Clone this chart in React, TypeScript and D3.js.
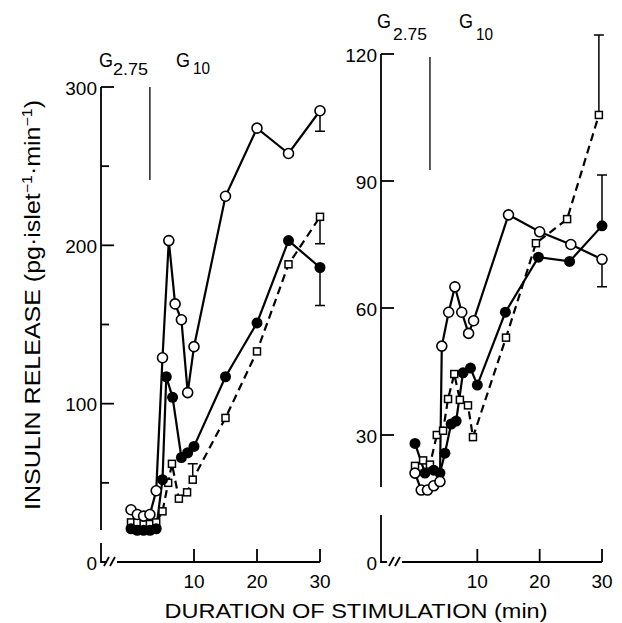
import React, { useEffect, useRef } from "react";
import * as d3 from "d3";

// left panel (0-300 scale)
const leftOpenT = [0, 1, 2, 3, 4, 5, 6, 7, 8, 9, 10, 15, 20, 25, 30];
const leftOpenV = [33, 30, 29, 30, 45, 129, 203, 163, 153, 107, 136, 231, 274, 258, 285];
const leftFilledT = [0, 1, 2, 3, 4, 5, 5.6, 6.6, 8, 9, 10, 15, 20, 25, 30];
const leftFilledV = [21, 20, 20, 20, 21, 52, 117, 104, 66, 69, 73, 117, 151, 203, 186];
const leftSquareT = [0, 1, 2, 3, 4, 5, 5.9, 6.5, 7.6, 8.9, 9.8, 15, 20, 25, 30];
const leftSquareV = [25, 25, 24, 24, 25, 32, 50, 62, 40, 44, 52, 91, 133, 188, 218];
// [time, value, bar end]
const leftErr = [[30, 285, 272], [30, 186, 162], [30, 218, 201], [9.8, 52, 62]];

// right panel (0-120 scale)
const rightOpenT = [0, 1, 2, 3, 4, 4.3, 5.4, 6.4, 7.5, 8.6, 9.4, 15, 20, 25, 30];
const rightOpenV = [21, 17, 17, 18, 19, 51, 59, 65, 59, 54, 57, 82, 78, 75, 71.5];
const rightFilledT = [0, 1.6, 3, 4, 4.8, 5.8, 6.6, 7.7, 8.9, 10, 14.5, 19.8, 24.8, 30];
const rightFilledV = [28, 21, 21.7, 21, 25.7, 32.6, 33.3, 44.7, 45.8, 41.8, 59, 72, 71, 79.4];
const rightSquareT = [0, 1.3, 2.4, 3.5, 4.5, 5.3, 6.3, 7.2, 8.5, 9.3, 14.6, 19.4, 24.4, 29.5];
const rightSquareV = [22.7, 24, 23, 30, 31, 38.5, 44.4, 38.3, 37, 29.5, 53, 75.3, 81, 105.6];
const rightErr = [[30, 71.5, 65], [30, 79.4, 91.4], [29.5, 105.6, 124.5]];

const xTicks = [10, 20, 30];
const leftYTicks = [0, 100, 200, 300];
const leftYMinor = [50, 150, 250];
const rightYTicks = [0, 30, 60, 90, 120];

const FONT = "'Liberation Sans', Arial, sans-serif";

const xL = d3.scaleLinear().domain([0, 30]).range([131, 320]);
const yL = d3.scaleLinear().domain([0, 300]).range([562, 87]);
const xR = d3.scaleLinear().domain([0, 30]).range([415, 602]);
const yR = d3.scaleLinear().domain([0, 120]).range([562, 54]);

function zip(t: number[], v: number[]) {
  return t.map((d, i) => [d, v[i]] as [number, number]);
}

// axis frame drawn as JSX
function Frame({ x, y, axisX, yTicks, yMinor, breakGap, xStart, slashX }: any) {
  const y0 = y(0);
  const yTop = y(y.domain()[1]);
  const st = { stroke: "#000", strokeWidth: 1.8 };
  return (
    <g>
      <path d={`M${axisX},${yTop}V${breakGap[0]}M${axisX},${breakGap[1]}V${y0}H${axisX + 6}`}
        fill="none" {...st} />
      {slashX.map((sx: number) => (
        <line key={sx} x1={sx} y1={y0 + 4} x2={sx + 5} y2={y0 - 5} {...st} />
      ))}
      <line x1={xStart} y1={y0} x2={x.range()[1]} y2={y0} {...st} />
      {yTicks.filter((v: number) => v !== 0).map((v: number) => (
        <line key={"t" + v} x1={axisX} y1={y(v)} x2={axisX + 13} y2={y(v)} {...st} />
      ))}
      {(yMinor || []).map((v: number) => (
        <line key={"m" + v} x1={axisX} y1={y(v)} x2={axisX + 8} y2={y(v)} {...st} />
      ))}
      {yTicks.map((v: number) => (
        <text key={"l" + v} x={axisX - 4} y={y(v)} dy="0.4em" textAnchor="end"
          fontSize={19} fontFamily={FONT}>{v}</text>
      ))}
      {xTicks.map((t: number) => (
        <g key={"x" + t}>
          <line x1={x(t)} y1={y0} x2={x(t)} y2={y0 - 13} {...st} />
          <text x={x(t)} y={y0 + 26} textAnchor="middle" fontSize={19} fontFamily={FONT}>{t}</text>
        </g>
      ))}
    </g>
  );
}

export default function App() {
  const ref = useRef<SVGGElement>(null);

  useEffect(() => {
    const root = d3.select(ref.current);
    root.selectAll("*").remove();

    const drawSeries = (x: any, y: any, open: any, filled: any, square: any, err: number[][], switchT: number, switchTop: number, switchBottom: number) => {
      const g = root.append("g");
      g.append("line").attr("x1", x(switchT)).attr("x2", x(switchT))
        .attr("y1", switchTop).attr("y2", switchBottom)
        .attr("stroke", "black").attr("stroke-width", 1.3);

      const line = d3.line<[number, number]>().x(d => x(d[0])).y(d => y(d[1]));
      g.append("path").attr("d", line(square)).attr("fill", "none")
        .attr("stroke", "black").attr("stroke-width", 2.2).attr("stroke-dasharray", "8,5");
      g.append("path").attr("d", line(filled)).attr("fill", "none")
        .attr("stroke", "black").attr("stroke-width", 2.2);
      g.append("path").attr("d", line(open)).attr("fill", "none")
        .attr("stroke", "black").attr("stroke-width", 2.2);

      err.forEach(e => {
        const ex = x(e[0]);
        g.append("path").attr("d", `M${ex},${y(e[1])}V${y(e[2])}M${ex - 5},${y(e[2])}H${ex + 5}`)
          .attr("fill", "none").attr("stroke", "black").attr("stroke-width", 1.5);
      });

      g.selectAll(".sq").data(square).enter().append("rect")
        .attr("x", (d: any) => x(d[0]) - 3.5).attr("y", (d: any) => y(d[1]) - 3.5)
        .attr("width", 7).attr("height", 7)
        .attr("fill", "white").attr("stroke", "black").attr("stroke-width", 1.5);
      g.selectAll(".fc").data(filled).enter().append("circle")
        .attr("cx", (d: any) => x(d[0])).attr("cy", (d: any) => y(d[1])).attr("r", 5.5)
        .attr("fill", "black");
      g.selectAll(".oc").data(open).enter().append("circle")
        .attr("cx", (d: any) => x(d[0])).attr("cy", (d: any) => y(d[1])).attr("r", 5)
        .attr("fill", "white").attr("stroke", "black").attr("stroke-width", 1.6);
    };

    drawSeries(xL, yL, zip(leftOpenT, leftOpenV), zip(leftFilledT, leftFilledV),
      zip(leftSquareT, leftSquareV), leftErr, 3, 87, 180);
    drawSeries(xR, yR, zip(rightOpenT, rightOpenV), zip(rightFilledT, rightFilledV),
      zip(rightSquareT, rightSquareV), rightErr, 2.4, 57, 170);
  }, []);

  const hdr = (gx: number, gy: number, sub: string, sx: number, sy: number, sw: number) => (
    <g key={gx}>
      <text x={gx} y={gy} fontSize={21} fontFamily={FONT} textLength={14} lengthAdjust="spacingAndGlyphs">G</text>
      <text x={sx} y={sy} fontSize={16} fontFamily={FONT} textLength={sw} lengthAdjust="spacingAndGlyphs">{sub}</text>
    </g>
  );

  return (
    <svg width={622} height={623}
      style={{ position: "absolute", left: 0, top: 0, background: "white" }}>
      <Frame x={xL} y={yL} axisX={101} yTicks={leftYTicks} yMinor={leftYMinor}
        breakGap={[530, 543]} xStart={117} slashX={[104, 110]} />
      <Frame x={xR} y={yR} axisX={381} yTicks={rightYTicks} yMinor={null}
        breakGap={[487, 515]} xStart={402} slashX={[389, 395]} />
      <g ref={ref} />
      {hdr(99, 67, "2.75", 113, 75, 35)}
      {hdr(176, 67, "10", 193, 74, 17)}
      {hdr(377, 28, "2.75", 393, 40, 34)}
      {hdr(459, 28, "10", 476, 40, 17)}
      <text x={356} y={618} textAnchor="middle" fontSize={21} fontFamily={FONT}
        textLength={383} lengthAdjust="spacingAndGlyphs">DURATION OF STIMULATION (min)</text>
      <text transform="translate(40,305) rotate(-90)" textAnchor="middle" fontSize={22}
        fontFamily={FONT} textLength={410} lengthAdjust="spacingAndGlyphs">
        INSULIN RELEASE (pg·islet
        <tspan dy={-8} fontSize={14}>−1</tspan>
        <tspan dy={8}>·min</tspan>
        <tspan dy={-8} fontSize={14}>−1</tspan>
        <tspan dy={8}>)</tspan>
      </text>
    </svg>
  );
}
